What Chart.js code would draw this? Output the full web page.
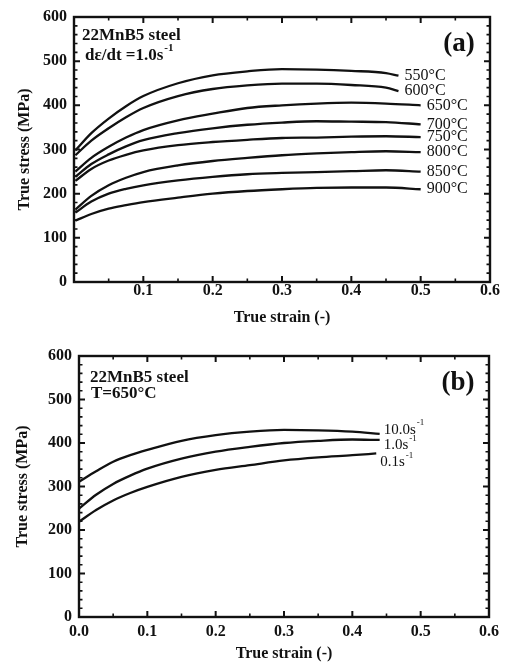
<!DOCTYPE html>
<html>
<head>
<meta charset="utf-8">
<script src="https://cdn.jsdelivr.net/npm/chart.js@4.4.1/dist/chart.umd.min.js"></script>
<style>
  body { margin: 0; background: #fff; }
  #wrapA { position: absolute; left: 0; top: 0; width: 506px; height: 328px; }
  #wrapB { position: absolute; left: 0; top: 328px; width: 506px; height: 335px; }
</style>
</head>
<body>
<div id="wrapA"><canvas id="chartA" width="506" height="328"></canvas></div>
<div id="wrapB"><canvas id="chartB" width="506" height="335"></canvas></div>
<script>
// (a) strain rate 1.0 s-1, different temperatures
const strainA = [0.002, 0.025, 0.05, 0.075, 0.1, 0.15, 0.2, 0.25, 0.3, 0.35, 0.4, 0.45, 0.5];
const strainAHot = [0.002, 0.025, 0.05, 0.075, 0.1, 0.15, 0.2, 0.25, 0.3, 0.35, 0.4, 0.45, 0.468];
const tempLabels = ['550°C', '600°C', '650°C', '700°C', '750°C', '800°C', '850°C', '900°C'];
const stress550 = [298, 337, 370, 398, 421, 450, 468, 477, 482, 481, 478, 473, 467];
const stress600 = [287, 320, 348, 373, 394, 421, 437, 445, 449, 449, 446, 440, 432];
const stress650 = [250, 281, 306, 327, 344, 366, 381, 394, 400, 404, 406, 404, 400];
const stress700 = [238, 267, 289, 307, 321, 337, 348, 356, 361, 364, 363, 362, 357];
const stress750 = [229, 256, 275, 288, 298, 310, 317, 322, 326, 327, 329, 330, 328];
const stress800 = [164, 195, 219, 236, 249, 264, 274, 281, 287, 291, 294, 296, 294];
const stress850 = [157, 182, 200, 211, 219, 230, 238, 244, 247, 249, 251, 253, 250];
const stress900 = [139, 154, 166, 174, 181, 191, 200, 206, 210, 213, 214, 214, 210];

// (b) T = 650°C, different strain rates
const strainB = [0, 0.025, 0.05, 0.075, 0.1, 0.15, 0.2, 0.25, 0.3, 0.35, 0.4, 0.44];
const strainBSlow = [0, 0.025, 0.05, 0.075, 0.1, 0.15, 0.2, 0.25, 0.3, 0.35, 0.4, 0.435];
const rateLabels = ['10.0s', '1.0s', '0.1s'];
const stressRate10 = [311, 335, 357, 372, 384, 405, 418, 426, 430, 429, 426, 421];
const stressRate1 = [249, 281, 306, 325, 341, 364, 380, 391, 400, 405, 408, 407];
const stressRate01 = [219, 246, 268, 285, 299, 322, 338, 349, 360, 367, 372, 376];

const xTicks = [0, 0.1, 0.2, 0.3, 0.4, 0.5, 0.6];
const yTicks = [0, 100, 200, 300, 400, 500, 600];

const SERIF = "'Liberation Serif', 'DejaVu Serif', serif";

function pts(xs, ys) {
    return xs.map((x, i) => ({ x: x, y: ys[i] }));
}

function curve(label, xs, ys) {
    return {
        label: label,
        data: pts(xs, ys),
        borderColor: '#111',
        borderWidth: 2.3,
        pointRadius: 0,
        tension: 0.3,
        cubicInterpolationMode: 'monotone',
        fill: false
    };
}

// text with optional superscript part
function drawSup(ctx, base, sup, x, y, size, weight) {
    ctx.font = `${weight} ${size}px ${SERIF}`;
    ctx.textBaseline = 'middle';
    ctx.textAlign = 'left';
    ctx.fillText(base, x, y);
    if (sup) {
        const w = ctx.measureText(base).width;
        ctx.font = `${weight} ${Math.round(size * 0.62)}px ${SERIF}`;
        ctx.fillText(sup, x + w + 1, y - size * 0.45);
    }
}

// frame + inward ticks on all four sides, as in the original figure
const frameTicks = {
    id: 'frameTicks',
    afterDatasetsDraw(chart) {
        const { ctx, chartArea: a, scales: { x, y } } = chart;
        ctx.save();
        ctx.strokeStyle = '#111';
        for (let i = 0; i <= 12; i++) {
            const px = x.getPixelForValue(i * 0.05);
            const len = i % 2 === 0 ? 6 : 3.5;
            ctx.lineWidth = i % 2 === 0 ? 2 : 1.6;
            ctx.beginPath();
            ctx.moveTo(px, a.bottom); ctx.lineTo(px, a.bottom - len);
            ctx.moveTo(px, a.top); ctx.lineTo(px, a.top + len);
            ctx.stroke();
        }
        for (let i = 0; i <= 30; i++) {
            const py = y.getPixelForValue(i * 20);
            const len = i % 5 === 0 ? 6 : 3.5;
            ctx.lineWidth = i % 5 === 0 ? 2 : 1.6;
            ctx.beginPath();
            ctx.moveTo(a.left, py); ctx.lineTo(a.left + len, py);
            ctx.moveTo(a.right, py); ctx.lineTo(a.right - len, py);
            ctx.stroke();
        }
        ctx.lineWidth = 2.4;
        ctx.strokeRect(a.left, a.top, a.right - a.left, a.bottom - a.top);
        ctx.restore();
    }
};

// labels at the end of each curve + panel notes
const notes = {
    id: 'notes',
    afterDraw(chart, args, opts) {
        const { ctx, chartArea: a } = chart;
        ctx.save();
        ctx.fillStyle = '#111';
        chart.data.datasets.forEach((ds, i) => {
            const meta = chart.getDatasetMeta(i);
            const last = meta.data[meta.data.length - 1];
            drawSup(ctx, ds.label, opts.endSup, last.x + opts.dx, last.y + opts.dy[i], opts.endSize, 'normal');
        });
        opts.lines.forEach(l => {
            drawSup(ctx, l.text, l.sup, a.left + l.x, a.top + l.y, 17, 'bold');
        });
        ctx.font = `bold 27px ${SERIF}`;
        ctx.textAlign = 'center';
        ctx.textBaseline = 'middle';
        ctx.fillText(opts.panel, a.right - 31, a.top + 27);
        ctx.restore();
    }
};

function makeOptions(cfg) {
    return {
        responsive: false,
        animation: false,
        layout: { padding: { left: 0, top: cfg.top, right: cfg.right, bottom: 0 } },
        plugins: {
            legend: { display: false },
            tooltip: { enabled: false },
            notes: cfg.notes
        },
        scales: {
            x: {
                type: 'linear',
                min: xTicks[0],
                max: xTicks[xTicks.length - 1],
                afterBuildTicks: s => { s.ticks = xTicks.map(v => ({ value: v })); },
                afterFit: s => { s.height = cfg.xHeight; },
                grid: { display: false, drawTicks: false },
                border: { display: false },
                ticks: {
                    color: '#111',
                    padding: cfg.xPad,
                    font: { family: SERIF, size: 16, weight: 'bold', lineHeight: 1 },
                    callback: v => (v === 0 && !cfg.showZero) ? '' : v.toFixed(1)
                },
                title: {
                    display: true,
                    text: 'True strain (-)',
                    color: '#111',
                    padding: { top: 0, bottom: cfg.xTitlePad },
                    font: { family: SERIF, size: 16, weight: 'bold' }
                }
            },
            y: {
                min: yTicks[0],
                max: yTicks[yTicks.length - 1],
                afterBuildTicks: s => { s.ticks = yTicks.map(v => ({ value: v })); },
                afterFit: s => { s.width = cfg.yWidth; },
                grid: { display: false, drawTicks: false },
                border: { display: false },
                ticks: {
                    color: '#111',
                    padding: 7,
                    font: { family: SERIF, size: 16, weight: 'bold' }
                },
                title: {
                    display: true,
                    text: 'True stress (MPa)',
                    color: '#111',
                    padding: { top: cfg.yTitlePad, bottom: 0 },
                    font: { family: SERIF, size: 16, weight: 'bold' }
                }
            }
        }
    };
}

new Chart(document.getElementById('chartA'), {
    type: 'line',
    data: {
        datasets: [
            curve(tempLabels[0], strainAHot, stress550),
            curve(tempLabels[1], strainAHot, stress600),
            curve(tempLabels[2], strainA, stress650),
            curve(tempLabels[3], strainA, stress700),
            curve(tempLabels[4], strainA, stress750),
            curve(tempLabels[5], strainA, stress800),
            curve(tempLabels[6], strainA, stress850),
            curve(tempLabels[7], strainA, stress900)
        ]
    },
    options: makeOptions({
        top: 17, right: 16, yWidth: 74, xHeight: 46, xPad: 1, xTitlePad: 1, yTitlePad: 15, showZero: false,
        notes: {
            dx: 6, dy: [0, 0, 0, 0, 0, 0, 0, 0], endSize: 16, endSup: null,
            panel: '(a)',
            lines: [
                { text: '22MnB5 steel', sup: null, x: 8, y: 19 },
                { text: 'dε/dt =1.0s', sup: '-1', x: 11, y: 39 }
            ]
        }
    }),
    plugins: [frameTicks, notes]
});

new Chart(document.getElementById('chartB'), {
    type: 'line',
    data: {
        datasets: [
            curve(rateLabels[0], strainB, stressRate10),
            curve(rateLabels[1], strainB, stressRate1),
            curve(rateLabels[2], strainBSlow, stressRate01)
        ]
    },
    options: makeOptions({
        top: 28, right: 14, yWidth: 79, xHeight: 46, xPad: 7, xTitlePad: 0, yTitlePad: 13, showZero: true,
        notes: {
            dx: 4, dy: [-4, 5, 9], endSize: 15, endSup: '-1',
            panel: '(b)',
            lines: [
                { text: '22MnB5 steel', sup: null, x: 11, y: 22 },
                { text: 'T=650°C', sup: null, x: 12, y: 38 }
            ]
        }
    }),
    plugins: [frameTicks, notes]
});
</script>
</body>
</html>
